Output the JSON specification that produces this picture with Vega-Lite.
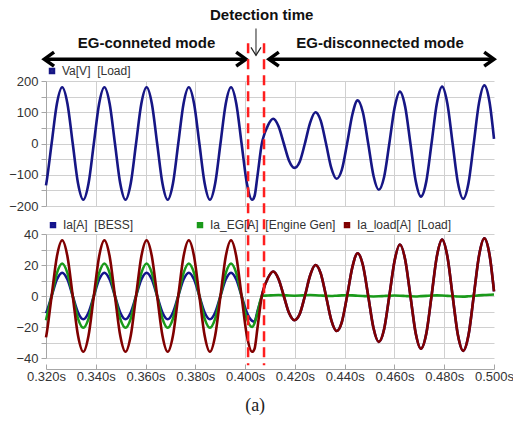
{
  "$schema": "https://vega.github.io/schema/vega-lite/v6.json",
  "background": "white",
  "padding": {"left": 8, "top": 8, "right": 2, "bottom": 4},
  "datasets": {
    "w": [
      {"t":0.32,"va":-134,"ib":-11.1,"ie":-15.6,"il":-26.7},
      {"t":0.32014,"va":-127.3,"ib":-10.6,"ie":-14.6,"il":-25.5},
      {"t":0.32226,"va":0,"ib":0,"ie":0,"il":0},
      {"t":0.32438,"va":127.3,"ib":10.6,"ie":14.8,"il":25.5},
      {"t":0.3265,"va":180,"ib":15,"ie":21,"il":36},
      {"t":0.32862,"va":127.3,"ib":10.6,"ie":14.8,"il":25.5},
      {"t":0.33074,"va":0,"ib":0,"ie":0,"il":0},
      {"t":0.33286,"va":-127.3,"ib":-10.6,"ie":-14.6,"il":-25.5},
      {"t":0.33498,"va":-180,"ib":-15,"ie":-20.5,"il":-36},
      {"t":0.3371,"va":-127.3,"ib":-10.6,"ie":-14.6,"il":-25.5},
      {"t":0.33922,"va":0,"ib":0,"ie":0,"il":0},
      {"t":0.34134,"va":127.3,"ib":10.6,"ie":14.8,"il":25.5},
      {"t":0.34346,"va":180,"ib":15,"ie":21,"il":36},
      {"t":0.34558,"va":127.3,"ib":10.6,"ie":14.8,"il":25.5},
      {"t":0.3477,"va":0,"ib":0,"ie":0,"il":0},
      {"t":0.34982,"va":-127.3,"ib":-10.6,"ie":-14.6,"il":-25.5},
      {"t":0.35194,"va":-180,"ib":-15,"ie":-20.5,"il":-36},
      {"t":0.35406,"va":-127.3,"ib":-10.6,"ie":-14.6,"il":-25.5},
      {"t":0.35618,"va":0,"ib":0,"ie":0,"il":0},
      {"t":0.3583,"va":127.3,"ib":10.6,"ie":14.8,"il":25.5},
      {"t":0.36042,"va":180,"ib":15,"ie":21,"il":36},
      {"t":0.36254,"va":127.3,"ib":10.6,"ie":14.8,"il":25.5},
      {"t":0.36466,"va":0,"ib":0,"ie":0,"il":0},
      {"t":0.36678,"va":-127.3,"ib":-10.6,"ie":-14.6,"il":-25.5},
      {"t":0.3689,"va":-180,"ib":-15,"ie":-20.5,"il":-36},
      {"t":0.37102,"va":-127.3,"ib":-10.6,"ie":-14.6,"il":-25.5},
      {"t":0.37314,"va":0,"ib":0,"ie":0,"il":0},
      {"t":0.37526,"va":127.3,"ib":10.6,"ie":14.8,"il":25.5},
      {"t":0.37738,"va":180,"ib":15,"ie":21,"il":36},
      {"t":0.3795,"va":127.3,"ib":10.6,"ie":14.8,"il":25.5},
      {"t":0.38162,"va":0,"ib":0,"ie":0,"il":0},
      {"t":0.38374,"va":-127.3,"ib":-10.6,"ie":-14.6,"il":-25.5},
      {"t":0.38586,"va":-180,"ib":-15,"ie":-20.5,"il":-36},
      {"t":0.38798,"va":-127.3,"ib":-10.6,"ie":-14.6,"il":-25.5},
      {"t":0.3901,"va":0,"ib":0,"ie":0,"il":0},
      {"t":0.39222,"va":127.3,"ib":10.6,"ie":14.8,"il":25.5},
      {"t":0.39434,"va":180,"ib":15,"ie":21,"il":36},
      {"t":0.39646,"va":127.3,"ib":10.6,"ie":14.8,"il":25.5},
      {"t":0.39858,"va":0,"ib":0,"ie":0,"il":0},
      {"t":0.4007,"va":-127.3,"ib":-10.6,"ie":-14.6,"il":-25.5},
      {"t":0.40282,"va":-180,"ib":-16,"ie":-20,"il":-36},
      {"t":0.4038,"va":-168,"ib":-16.5,"ie":-17.5,"il":-34},
      {"t":0.40494,"va":-105,"ib":-10,"ie":-11,"il":-21},
      {"t":0.4068,"va":3,"ib":0.6,"ie":0,"il":0.6},
      {"t":0.40706,"va":12,"ib":2.4,"ie":0.2,"il":2.4},
      {"t":0.40918,"va":58,"ib":11.6,"ie":0.3,"il":11.6},
      {"t":0.4113,"va":79,"ib":15.8,"ie":0.5,"il":15.8},
      {"t":0.41342,"va":55,"ib":11,"ie":0.6,"il":11},
      {"t":0.41554,"va":0,"ib":0,"ie":0.5,"il":0},
      {"t":0.41766,"va":-55,"ib":-11,"ie":0.3,"il":-11},
      {"t":0.41978,"va":-78,"ib":-15.6,"ie":0.2,"il":-15.6},
      {"t":0.4219,"va":-59,"ib":-11.8,"ie":0.3,"il":-11.8},
      {"t":0.42402,"va":0,"ib":0,"ie":0.5,"il":0},
      {"t":0.42614,"va":67,"ib":13.4,"ie":0.6,"il":13.4},
      {"t":0.42826,"va":100,"ib":20,"ie":0.5,"il":20},
      {"t":0.43038,"va":73,"ib":14.6,"ie":0.3,"il":14.6},
      {"t":0.4325,"va":0,"ib":0,"ie":0.1,"il":0},
      {"t":0.43462,"va":-78,"ib":-15.6,"ie":0,"il":-15.6},
      {"t":0.43674,"va":-113,"ib":-22.6,"ie":0.2,"il":-22.6},
      {"t":0.43886,"va":-84,"ib":-16.8,"ie":0.4,"il":-16.8},
      {"t":0.44098,"va":0,"ib":0,"ie":0.5,"il":0},
      {"t":0.4431,"va":93,"ib":18.6,"ie":0.4,"il":18.6},
      {"t":0.44522,"va":138,"ib":27.6,"ie":0.2,"il":27.6},
      {"t":0.44734,"va":99,"ib":19.8,"ie":0,"il":19.8},
      {"t":0.44946,"va":0,"ib":0,"ie":-0.2,"il":0},
      {"t":0.45158,"va":-103,"ib":-20.6,"ie":-0.3,"il":-20.6},
      {"t":0.4537,"va":-148,"ib":-29.6,"ie":-0.2,"il":-29.6},
      {"t":0.45582,"va":-108,"ib":-21.6,"ie":0,"il":-21.6},
      {"t":0.45794,"va":0,"ib":0,"ie":0.2,"il":0},
      {"t":0.46006,"va":114,"ib":22.8,"ie":0.3,"il":22.8},
      {"t":0.46218,"va":166,"ib":33.2,"ie":0.2,"il":33.2},
      {"t":0.4643,"va":118,"ib":23.6,"ie":0,"il":23.6},
      {"t":0.46642,"va":0,"ib":0,"ie":-0.2,"il":0},
      {"t":0.46854,"va":-120,"ib":-24,"ie":-0.3,"il":-24},
      {"t":0.47066,"va":-170,"ib":-34,"ie":-0.1,"il":-34},
      {"t":0.47278,"va":-122,"ib":-24.4,"ie":0.1,"il":-24.4},
      {"t":0.4749,"va":0,"ib":0,"ie":0.3,"il":0},
      {"t":0.47702,"va":127,"ib":25.4,"ie":0.4,"il":25.4},
      {"t":0.47914,"va":182,"ib":36.4,"ie":0.3,"il":36.4},
      {"t":0.48126,"va":128,"ib":25.6,"ie":0.1,"il":25.6},
      {"t":0.48338,"va":0,"ib":0,"ie":-0.1,"il":0},
      {"t":0.4855,"va":-126,"ib":-25.2,"ie":-0.3,"il":-25.2},
      {"t":0.48762,"va":-177,"ib":-35.4,"ie":-0.4,"il":-35.4},
      {"t":0.48974,"va":-127,"ib":-25.4,"ie":-0.2,"il":-25.4},
      {"t":0.49186,"va":0,"ib":0,"ie":0.1,"il":0},
      {"t":0.49398,"va":130,"ib":26,"ie":0.4,"il":26},
      {"t":0.4961,"va":186,"ib":37.2,"ie":0.6,"il":37.2},
      {"t":0.49822,"va":132,"ib":26.4,"ie":0.8,"il":26.4},
      {"t":0.5,"va":15,"ib":3,"ie":1,"il":3}
    ],
    "txt": [
      {"t":0.36038,"v":321,"label":"EG-conneted mode"},
      {"t":0.45419,"v":321,"label":"EG-disconnected mode"},
      {"t":0.40666,"v":410,"label":"Detection time"}
    ],
    "harr": [
      {"t1":0.3193,"t2":0.40035,"v":270},
      {"t1":0.4096,"t2":0.5,"v":270}
    ],
    "hhead": [
      {"t":0.3193,"v":270,"dir":"left"},
      {"t":0.40035,"v":270,"dir":"right"},
      {"t":0.4096,"v":270,"dir":"left"},
      {"t":0.5,"v":270,"dir":"right"}
    ],
    "varr": [{"t":0.40437,"v1":368,"v2":282}],
    "vhead": [{"t":0.40437,"v":282,"dir":"down"}],
    "det": [{"t":0.4012},{"t":0.4076}]
  },
  "title": {"text":"(a)","orient":"bottom","anchor":"middle","font":"Liberation Serif","fontSize":18,"fontWeight":"normal","color":"#222222","offset":14,"dx":-6},
  "spacing": 28,
  "bounds": "flush",
  "resolve": {"scale": {"y":"independent","color":"independent"}},
  "vconcat": [
    {
      "width": 448,
      "height": 125,
      "layer": [
        {
          "data": {"name":"w"},
          "mark": {"type":"line","strokeWidth":2.6,"interpolate":"monotone"},
          "encoding": {
            "x": {"field":"t","type":"quantitative","title":null,"scale":{"domain":[0.32,0.5],"nice":false,"zero":false},
                  "axis":{"values":[0.32,0.34,0.36,0.38,0.4,0.42,0.44,0.46,0.48,0.5],"labels":false,"ticks":false,"domain":false,"grid":true,
                          "gridOpacity":{"condition":{"test":"datum.value > 0.495 || datum.value < 0.325","value":0},"value":1}}},
            "y": {"field":"va","type":"quantitative","title":null,"scale":{"domain":[-200,200],"nice":false},
                  "axis":{"values":[-200,-150,-100,-50,0,50,100,150,200],"tickCount":9,"labelOverlap":false,"grid":true,
                          "labelOpacity":{"condition":{"test":"datum.value % 100 !== 0","value":0},"value":1}}},
            "color": {"datum":"va","type":"nominal","scale":{"domain":["va"],"range":["#161685"]},
                      "legend":{"orient":"none","legendX":0,"legendY":-16,"title":null,"symbolType":"square","symbolSize":12,"symbolStrokeWidth":3,"labelOffset":4,"padding":0,
                                "labelExpr":"'Va[V]\u00a0 [Load]'"}}
          }
        },
        {
          "data": {"name":"txt"},
          "mark": {"type":"text","font":"Liberation Sans","fontWeight":"bold","fontSize":15,"baseline":"middle","align":"center","color":"#111111"},
          "encoding": {
            "x": {"field":"t","type":"quantitative","title":null},
            "y": {"field":"v","type":"quantitative","title":null},
            "text": {"field":"label"}
          }
        },
        {
          "data": {"name":"harr"},
          "mark": {"type":"rule","strokeWidth":3.5,"color":"#000000"},
          "encoding": {
            "x": {"field":"t1","type":"quantitative","title":null},
            "x2": {"field":"t2"},
            "y": {"field":"v","type":"quantitative","title":null}
          }
        },
        {
          "data": {"name":"hhead"},
          "mark": {"type":"point","filled":false,"color":"#000000","opacity":1,"strokeWidth":3.5,"size":196,"strokeJoin":"miter"},
          "encoding": {
            "x": {"field":"t","type":"quantitative","title":null},
            "y": {"field":"v","type":"quantitative","title":null},
            "shape": {"field":"dir","type":"nominal","legend":null,
                      "scale":{"domain":["left","right"],"range":["M 1.4 -1 L 0 0 L 1.4 1","M -1.4 -1 L 0 0 L -1.4 1"]}}
          }
        },
        {
          "data": {"name":"varr"},
          "mark": {"type":"rule","strokeWidth":1,"color":"#222222"},
          "encoding": {
            "x": {"field":"t","type":"quantitative","title":null},
            "y": {"field":"v1","type":"quantitative","title":null},
            "y2": {"field":"v2"}
          }
        },
        {
          "data": {"name":"vhead"},
          "mark": {"type":"point","filled":false,"color":"#222222","opacity":1,"strokeWidth":1.2,"size":100,"shape":"M -1 -1.6 L 0 0 L 1 -1.6"},
          "encoding": {
            "x": {"field":"t","type":"quantitative","title":null},
            "y": {"field":"v","type":"quantitative","title":null}
          }
        }
      ]
    },
    {
      "width": 448,
      "height": 124,
      "layer": [
        {
          "data": {"name":"w"},
          "transform": [{"fold":["ib","ie","il"],"as":["s","val"]}],
          "mark": {"type":"line","strokeWidth":2.6,"interpolate":"monotone"},
          "encoding": {
            "x": {"field":"t","type":"quantitative","title":null,"scale":{"domain":[0.32,0.5],"nice":false,"zero":false},
                  "axis":{"values":[0.32,0.34,0.36,0.38,0.4,0.42,0.44,0.46,0.48,0.5],"labelExpr":"format(datum.value, '.3f') + 's'",
                          "offset":11,"tickSize":-5,"labelPadding":6,"labelFlush":false,"labelOverlap":false,"grid":true,
                          "gridOpacity":{"condition":{"test":"datum.value > 0.495 || datum.value < 0.325","value":0},"value":1}}},
            "y": {"field":"val","type":"quantitative","title":null,"scale":{"domain":[-40,40],"nice":false},
                  "axis":{"values":[-40,-30,-20,-10,0,10,20,30,40],"tickCount":9,"labelOverlap":false,"grid":true,
                          "labelOpacity":{"condition":{"test":"datum.value % 20 !== 0","value":0},"value":1}}},
            "color": {"field":"s","type":"nominal","scale":{"domain":["ib","ie","il"],"range":["#14148c","#1a9a1a","#800000"]},
                      "legend":{"orient":"none","legendX":1,"legendY":-15,"direction":"horizontal","title":null,"symbolType":"square","symbolSize":12,"symbolStrokeWidth":3,
                                "labelOffset":4,"padding":0,"gridAlign":"all","columnPadding":3,
                                "labelExpr":"datum.label == 'ib' ? 'Ia[A]\u00a0 [BESS]' : datum.label == 'ie' ? 'Ia_EG[A]\u00a0 [Engine Gen]' : 'Ia_load[A]\u00a0 [Load]'"}}
          }
        },
        {
          "data": {"name":"det"},
          "mark": {"type":"rule","color":"#ff1e1e","strokeWidth":2.5,"strokeDash":[10,6]},
          "encoding": {
            "x": {"field":"t","type":"quantitative","title":null},
            "y": {"datum":163},
            "y2": {"datum":-44.7}
          }
        }
      ]
    }
  ],
  "config": {
    "view": {"stroke": null},
    "axis": {"labelFont":"Liberation Sans","labelFontSize":13,"labelColor":"#333333","domainColor":"#a6a6a6","tickColor":"#a6a6a6",
             "gridColor":"#d0d0d0","gridWidth":1,"domainWidth":1,"tickSize":5,"labelPadding":3},
    "axisY": {"labelOverlap": false},
    "legend": {"labelFont":"Liberation Sans","labelFontSize":12,"labelColor":"#333333"}
  }
}
